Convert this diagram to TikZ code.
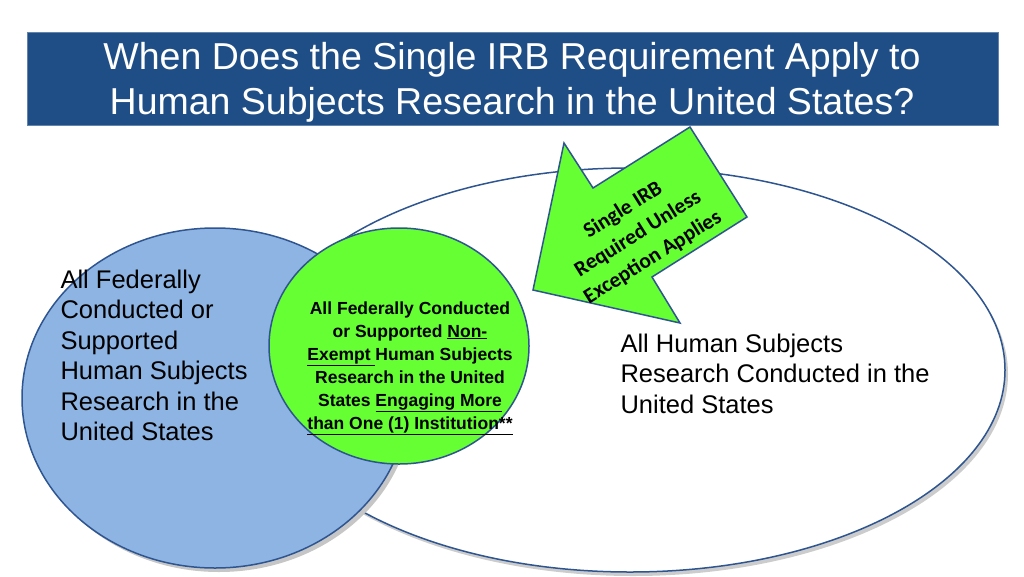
\documentclass[tikz,border=0pt]{standalone}
\usepackage{fontspec}
\setmainfont{Liberation Sans}
\newfontfamily\arrowfont{Carlito}
\definecolor{hdr}{HTML}{1F4E86}
\definecolor{edge}{HTML}{2F5590}
\definecolor{bluefill}{HTML}{8DB4E2}
\definecolor{grn}{HTML}{66FF33}
\begin{document}
\begin{tikzpicture}[x=1pt,y=-1pt,
  setshape/.style={draw=edge,line width=1.5pt},
  bodytext/.style={font=\fontsize{25.5}{30.5}\selectfont,align=left,text=black}]
\useasboundingbox (0,0) rectangle (1024,576);
\node[fill=hdr,draw=hdr!70!white,minimum width=971pt,minimum height=93pt,anchor=north west,inner sep=0] (hdr) at (27,32) {};
\node[text=white,font=\fontsize{37.5}{45}\selectfont,align=center] (title) at (512,82) {When Does the Single IRB Requirement Apply to\\Human Subjects Research in the United States?};
\fill[gray!40] (633,374) ellipse [x radius=375,y radius=202];
\draw[setshape,fill=white] (630,370) ellipse [x radius=375,y radius=202];
\coordinate (allc) at (630,370);
\fill[gray!45] (219,402) ellipse [x radius=193,y radius=170];
\draw[setshape,fill=bluefill] (215,398) ellipse [x radius=193,y radius=170];
\coordinate (fedc) at (215,398);
\draw[setshape,fill=grn] (399,346) ellipse [x radius=130,y radius=118];
\coordinate (grc) at (399,346);
\draw[edge,line width=1.5pt,fill=grn,line join=miter] (533,290) -- (564,143) -- (593,188) -- (690,127) -- (747,217) -- (652,277) -- (680,323) -- cycle;
\node[rotate=32,font=\arrowfont\bfseries\fontsize{21.5}{28}\selectfont,align=center] (arrtxt) at (638,234) {Single IRB\\Required Unless\\Exception Applies};
\node[bodytext,anchor=north west] (fedtxt) at (57,266) {All Federally\\Conducted or\\Supported\\Human Subjects\\Research in the\\United States};
\node[bodytext,anchor=north west] (alltxt) at (617,330) {All Human Subjects\\Research Conducted in the\\United States};
\node[font=\bfseries\fontsize{17.5}{23}\selectfont,align=center] (grtxt) at (410,368) {All Federally Conducted\\or Supported \underline{Non-}\\\underline{Exempt }Human Subjects\\Research in the United\\States \underline{Engaging More}\\\underline{than One (1) Institution**}};
\end{tikzpicture}
\end{document}
